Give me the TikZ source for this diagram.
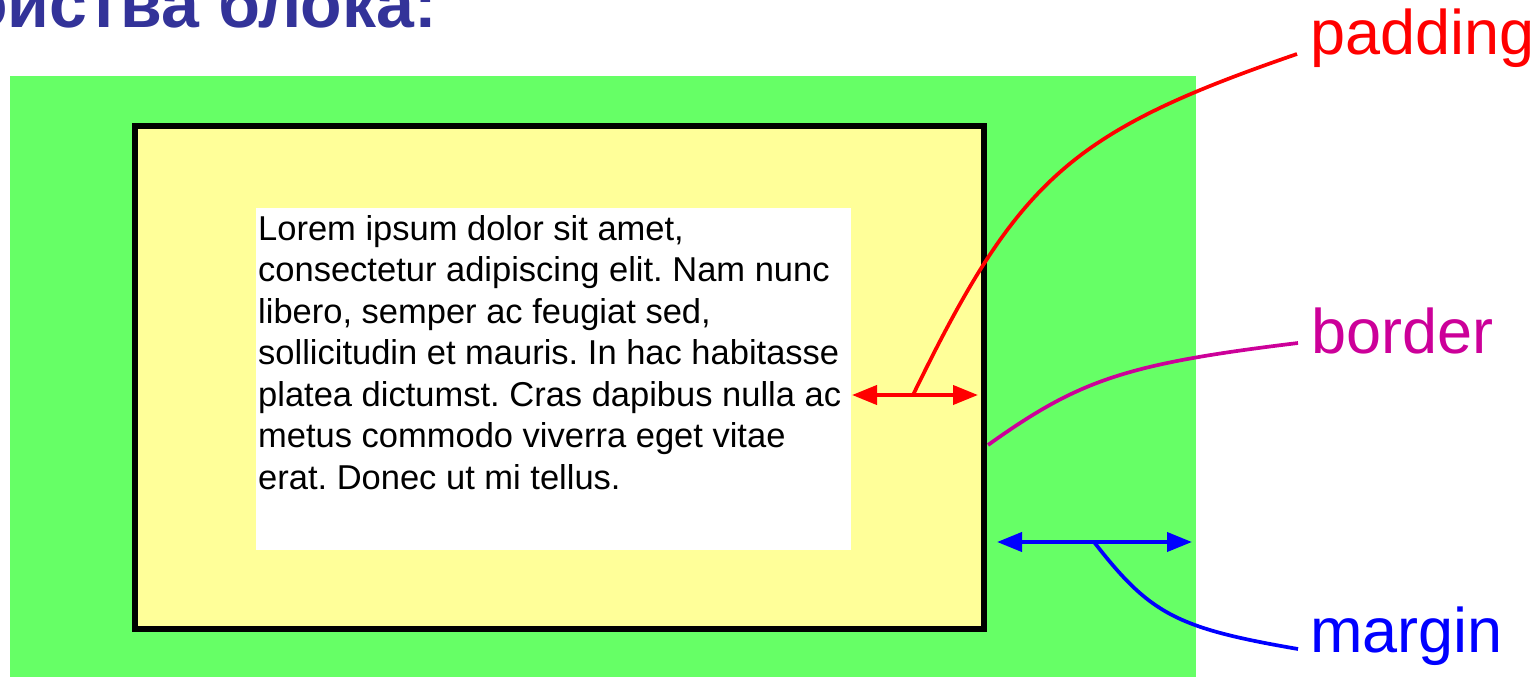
\documentclass[tikz,border=0pt]{standalone}
\usepackage{fontspec}
\setmainfont{Liberation Sans}
\usetikzlibrary{arrows.meta}
\definecolor{margingreen}{RGB}{102,255,102}
\definecolor{paddingyellow}{RGB}{255,255,153}
\definecolor{titleblue}{RGB}{51,51,153}
\definecolor{bordermagenta}{RGB}{204,0,153}
\frenchspacing
\begin{document}
\begin{tikzpicture}[x=1pt,y=-1pt,
  lbl/.style={anchor=base west, inner sep=0pt, font=\fontsize{63}{72}\selectfont},
  dimarrow/.style={line width=4pt, {Triangle[length=25pt,width=19pt]}-{Triangle[length=25pt,width=19pt]}},
  leader/.style={line width=3.7pt},
  plainbox/.style={anchor=north west, inner sep=0pt, outer sep=0pt}]
\useasboundingbox (0,0) rectangle (1539,677);
\begin{scope}
\clip (0,0) rectangle (1539,677);
\node[anchor=base east, inner sep=0pt, text=titleblue, font=\fontsize{68}{80}\selectfont\bfseries] (title) at (437,28) {Свойства блока:};
\end{scope}
% boxes
\node[plainbox, fill=margingreen, minimum width=1186pt, minimum height=601pt] (marginbox) at (10,76) {};
\node[anchor=north west, inner sep=0pt, draw=black, line width=6pt, fill=paddingyellow, minimum width=849pt, minimum height=503pt] (borderbox) at (132,123) {};
\node[plainbox, fill=white, minimum width=595pt, minimum height=342pt] (content) at (256,208) {};
\node[anchor=base west, inner sep=0pt, align=left, font=\fontsize{34.5}{41.5}\selectfont] (para) at (258,489) {Lorem ipsum dolor sit amet,\\consectetur adipiscing elit. Nam nunc\\libero, semper ac feugiat sed,\\sollicitudin et mauris. In hac habitasse\\platea dictumst. Cras dapibus nulla ac\\metus commodo viverra eget vitae\\erat. Donec ut mi tellus.};
% labels
\node[lbl, text=red] (padding) at (1310,55) {padding};
\node[lbl, text=bordermagenta] (border) at (1311,353) {border};
\node[lbl, text=blue] (margin) at (1310,652) {margin};
% dimension arrows
\coordinate (padL) at (852,395);
\coordinate (padR) at (978,395);
\coordinate (padFoot) at (913,395);
\coordinate (marL) at (997,542);
\coordinate (marR) at (1192,542);
\coordinate (marFoot) at (1094,542);
\coordinate (borFoot) at (988,445);
\draw[dimarrow, red] (padL) -- (padR);
\draw[dimarrow, blue] (marL) -- (marR);
% leaders
\draw[leader, red] (padFoot) .. controls (1018,179) and (1070,132) .. ([xshift=-13pt,yshift=1pt]padding.base west);
\draw[leader, bordermagenta] (borFoot) .. controls (1079,380) and (1125,364) .. ([xshift=-13pt,yshift=10pt]border.base west);
\draw[leader, blue] (marFoot) .. controls (1150,614) and (1176,628) .. ([xshift=-12pt,yshift=3pt]margin.base west);
\end{tikzpicture}
\end{document}
